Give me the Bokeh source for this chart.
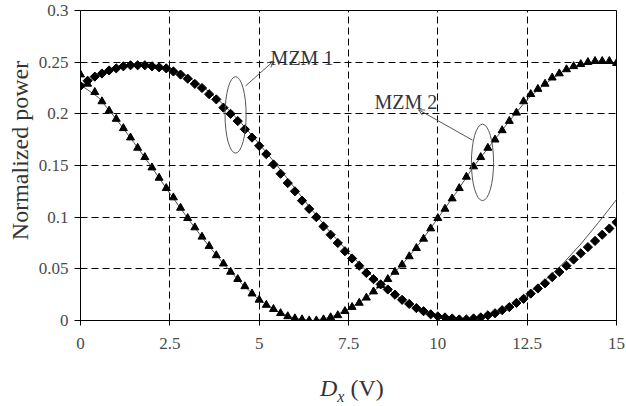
from math import pi
from bokeh.plotting import figure
from bokeh.layouts import column
from bokeh.models import Range1d, FixedTicker, NumeralTickFormatter, Label, Arrow, OpenHead, Div
from bokeh.embed import file_html
from bokeh.resources import INLINE

# ---------------- data ----------------
# MZM 1 measured points (diamonds)
mzm1_x = [round(0.2 * i, 1) for i in range(76)]
mzm1_y = [0.227, 0.232, 0.236, 0.239, 0.242, 0.244, 0.246, 0.247, 0.247, 0.247,
          0.246, 0.245, 0.244, 0.241, 0.238, 0.234, 0.229, 0.225, 0.219, 0.214,
          0.206, 0.200, 0.193, 0.185, 0.177, 0.169, 0.161, 0.151, 0.142, 0.133,
          0.125, 0.116, 0.108, 0.100, 0.091, 0.083, 0.075, 0.067, 0.060, 0.053,
          0.046, 0.040, 0.035, 0.030, 0.025, 0.020, 0.016, 0.012, 0.009, 0.006,
          0.004, 0.003, 0.002, 0.001, 0.001, 0.002, 0.003, 0.005, 0.007, 0.010,
          0.013, 0.017, 0.021, 0.026, 0.031, 0.036, 0.042, 0.047, 0.053, 0.059,
          0.065, 0.071, 0.077, 0.083, 0.089, 0.095]

# MZM 2 measured points (triangles)
mzm2_x = [round(0.2 * i, 1) for i in range(76)]
mzm2_y = [0.238, 0.229, 0.221, 0.212, 0.203, 0.195, 0.186, 0.177, 0.167, 0.158,
          0.148, 0.138, 0.128, 0.119, 0.109, 0.099, 0.090, 0.081, 0.072, 0.063,
          0.055, 0.047, 0.040, 0.033, 0.026, 0.020, 0.015, 0.011, 0.007, 0.004,
          0.002, 0.001, 0.000, 0.000, 0.001, 0.003, 0.005, 0.009, 0.013, 0.017,
          0.022, 0.028, 0.034, 0.040, 0.047, 0.054, 0.062, 0.070, 0.079, 0.089,
          0.099, 0.108, 0.118, 0.128, 0.139, 0.149, 0.158, 0.167, 0.175, 0.184,
          0.193, 0.201, 0.212, 0.219, 0.224, 0.229, 0.235, 0.239, 0.243, 0.246,
          0.248, 0.250, 0.251, 0.251, 0.251, 0.249]

# theory curves (thin lines)
line_x = [0.5 * i for i in range(31)]
line1_y = [0.228, 0.237, 0.244, 0.248, 0.248, 0.244, 0.236, 0.224, 0.209, 0.191,
           0.171, 0.150, 0.128, 0.106, 0.085, 0.066, 0.048, 0.033, 0.020, 0.010,
           0.003, 0.000, 0.001, 0.005, 0.013, 0.025, 0.039, 0.055, 0.074, 0.095,
           0.117]
line2_y = [0.228, 0.216, 0.195, 0.172, 0.148, 0.123, 0.099, 0.076, 0.055, 0.036,
           0.020, 0.009, 0.002, 0.000, 0.003, 0.011, 0.022, 0.037, 0.054, 0.075,
           0.099, 0.123, 0.149, 0.171, 0.193, 0.214, 0.229, 0.241, 0.248, 0.251,
           0.249]

x_ticks = [0, 2.5, 5, 7.5, 10, 12.5, 15]
x_tick_labels = ["0", "2.5", "5", "7.5", "10", "12.5", "15"]
y_ticks = [0, 0.05, 0.1, 0.15, 0.2, 0.25, 0.3]
y_tick_labels = ["0", "0.05", "0.1", "0.15", "0.2", "0.25", "0.3"]

# annotations: labels, ellipses, arrows
ann_text = ["MZM 1", "MZM 2"]
ann_text_x = [5.32, 8.23]
ann_text_y = [0.254, 0.211]
ell_x = [4.34, 11.25]
ell_y = [0.199, 0.153]
ell_w = [0.59, 0.62]
ell_h = [0.074, 0.074]
arrow_start = [(4.62, 0.227), (10.97, 0.1745)]
arrow_end = [(5.40, 0.251), (9.46, 0.204)]

SERIF = "Liberation Serif"

p = figure(width=626, height=360, output_backend="svg", toolbar_location=None,
           x_range=Range1d(0, 15), y_range=Range1d(0, 0.3),
           min_border_left=80, min_border_right=10, min_border_top=10,
           min_border_bottom=40)
p.background_fill_color = "white"
p.border_fill_color = "white"
p.outline_line_color = "black"
p.outline_line_width = 1

for ax, ticks, labels in ((p.xaxis[0], x_ticks, x_tick_labels), (p.yaxis[0], y_ticks, y_tick_labels)):
    ax.ticker = FixedTicker(ticks=ticks)
    ax.major_label_overrides = {t: l for t, l in zip(ticks, labels)}
    ax.minor_tick_line_color = None
    ax.axis_line_color = "black"
    ax.major_tick_line_color = "black"
    ax.major_label_text_font = SERIF
    ax.major_label_text_font_size = "17px"
    ax.major_label_text_color = "#4a4a4a"

p.xaxis.formatter = NumeralTickFormatter(format="0.[0]")
p.yaxis.formatter = NumeralTickFormatter(format="0.[00]")
p.xaxis.major_tick_in = 4
p.xaxis.major_tick_out = 5
p.xaxis.major_label_standoff = 12
p.yaxis.major_tick_in = 0
p.yaxis.major_tick_out = 6
p.yaxis.major_label_standoff = 6

p.yaxis.axis_label = "\u2002\u2002\u00a0Normalized power"
p.yaxis.axis_label_text_font = SERIF
p.yaxis.axis_label_text_font_size = "24px"
p.yaxis.axis_label_text_font_style = "normal"
p.yaxis.axis_label_text_color = "#333333"
p.yaxis.axis_label_standoff = 3

for g in (p.xgrid[0], p.ygrid[0]):
    g.grid_line_color = "black"
    g.grid_line_dash = "7 4"
    g.grid_line_width = 1

# theory lines
p.line(line_x, line1_y, line_color="#555555", line_width=1)
p.line(line_x, line2_y, line_color="#555555", line_width=1)

# markers
p.scatter(mzm1_x, mzm1_y, marker="square", angle=pi / 4, size=6.5,
          fill_color="black", line_color="black")
p.scatter(mzm2_x, mzm2_y, marker="triangle", size=8,
          fill_color="black", line_color="black")

# ellipses
p.ellipse(x=ell_x, y=ell_y, width=ell_w, height=ell_h, fill_color=None,
          line_color="#555555", line_width=1)

# arrows
for (x0, y0), (x1, y1) in zip(arrow_start, arrow_end):
    p.add_layout(Arrow(x_start=x0, y_start=y0, x_end=x1, y_end=y1,
                       line_color="#555555", line_width=1,
                       end=OpenHead(size=6, line_color="#555555", line_width=1)))

for t, tx, ty in zip(ann_text, ann_text_x, ann_text_y):
    p.add_layout(Label(x=tx, y=ty, text=t, text_font=SERIF, text_font_size="20px",
                       text_color="#333344", text_baseline="alphabetic"))

# x-axis title below the figure (italic D with subscript x)
xtitle = Div(
    text=('<div style="padding-left:315px;padding-top:11px;'
          'font-family:\'Liberation Serif\';font-size:24px;line-height:24px;'
          'color:#333333;white-space:nowrap">'
          '<i>D</i><sub style="font-size:16px;vertical-align:-6px;line-height:0">'
          '<i>x</i></sub> (V)</div>'),
    width=626, height=46)

layout = column(p, xtitle, spacing=0)

open("out.html", "w").write(file_html(layout, INLINE))
